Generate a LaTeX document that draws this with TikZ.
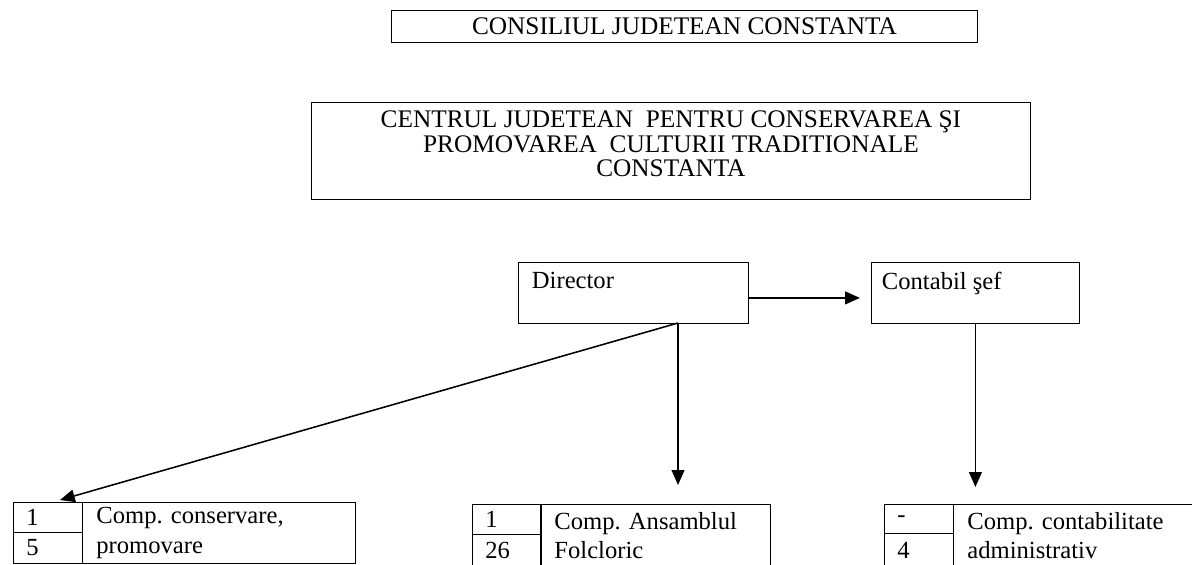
\documentclass[tikz,border=0pt]{standalone}
\usepackage{fontspec}
\setmainfont{Liberation Serif}
\usetikzlibrary{arrows.meta,calc}
\newdimen\px
\px=0.025cm

\begin{document}
\frenchspacing
\begin{tikzpicture}[x=0.025cm,y=-0.025cm,
    font=\fontsize{17.5}{16}\selectfont]
    \tikzset{box/.style={draw, line width=0.6pt, anchor=north west, inner sep=0pt},
      numcell/.style={box, align=left, text width=43\px, inner xsep=13\px},
      txtcell/.style={box, align=left, inner xsep=14\px,
        font=\fontsize{17.5}{21}\selectfont},
      conn/.style={line width=1.1pt, -{Triangle[length=10.5pt,width=9pt]}}}
    \useasboundingbox (0,0) rectangle (1192,565);
    \clip (0,0) rectangle (1192,565);
    % top of the chart
    \node[box, minimum width=586\px, minimum height=32\px,
      font=\fontsize{18}{16}\selectfont] (consiliu) at (391,10) {CONSILIUL JUDETEAN CONSTANTA};
    \node[box, minimum width=719\px, minimum height=97\px, align=center, text depth=14\px,
      font=\fontsize{18}{17.5}\selectfont] (centru) at (311,102)
      {CENTRUL JUDETEAN\ \ PENTRU CONSERVAREA ŞI\\PROMOVAREA\ \ CULTURII TRADITIONALE\\CONSTANTA};
    \node[box, minimum width=230\px, minimum height=61\px,
      label={[anchor=north west, xshift=9\px, yshift=-5\px]north west:Director}] (dir) at (518,262) {};
    \node[box, minimum width=208\px, minimum height=61\px,
      label={[anchor=north west, xshift=6\px, yshift=-5\px]north west:Contabil şef}] (contab) at (871,262) {};
    % compartimente
    \node[numcell, minimum height=30\px] (n1a) at (13,502) {1};
    \node[numcell, minimum height=31\px] (n1b) at (13,532) {5};
    \node[txtcell, text width=245\px, minimum height=61\px] (t1) at (82,502) {Comp. conservare,\\promovare};
    \node[numcell, minimum height=30\px] (n2a) at (472,504) {1};
    \node[numcell, minimum height=32\px] (n2b) at (472,534) {26};
    \node[txtcell, text width=202\px, minimum height=62\px] (t2) at (540,504) {Comp. Ansamblul\\Folcloric};
    \node[numcell, minimum height=29\px] (n3a) at (884,504) {-};
    \node[numcell, minimum height=33\px] (n3b) at (884,533) {4};
    \node[txtcell, text width=232\px, minimum height=62\px] (t3) at (953,504) {Comp. contabilitate\\administrativ};
    \coordinate (dirout) at (678,323);
    \coordinate (leftin) at (60,500);
    \draw[conn, shorten >=11\px] ([yshift=-5\px]dir.east) -- ([yshift=-5\px]contab.west);
    \draw[conn] (dirout) -- (leftin);
    \draw[conn, shorten >=19\px] (dirout) -- (dirout |- t2.north);
    \draw[conn, shorten >=17\px] (contab.south) -- (contab.south |- t3.north);
\end{tikzpicture}
\end{document}
